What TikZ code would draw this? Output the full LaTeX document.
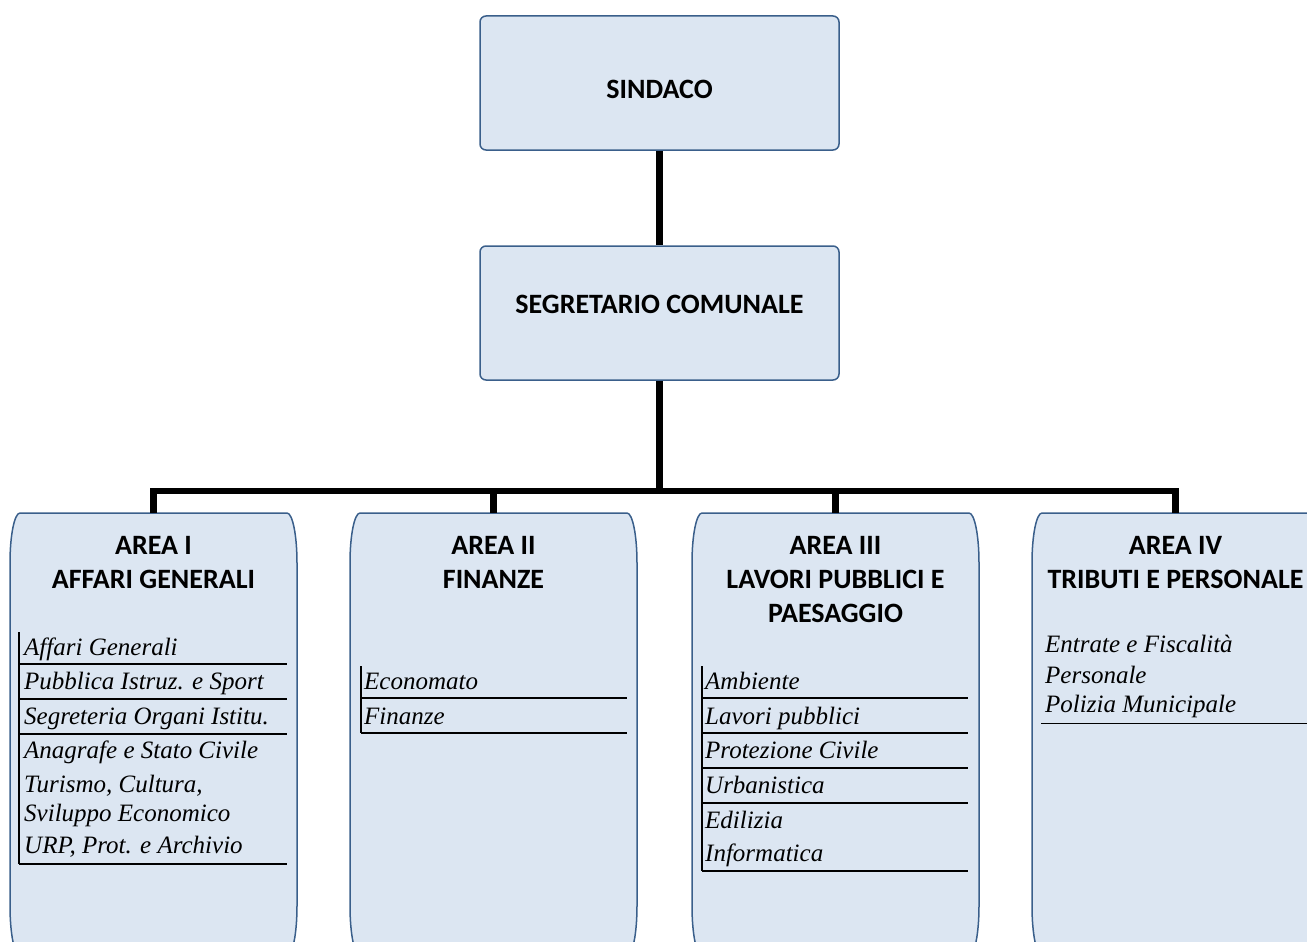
\documentclass[tikz,border=0pt]{standalone}
\usepackage{fontspec}
\setmainfont{Liberation Serif}
\newfontfamily\headfont{Carlito}
\usepackage{xcolor}
\definecolor{boxfill}{HTML}{DCE6F2}
\definecolor{boxline}{HTML}{3A5F8B}
\usetikzlibrary{positioning}

\begin{document}
\begin{tikzpicture}[x=1pt, y=-1pt,
    topbox/.style={draw=boxline, fill=boxfill, line width=1.5pt, rounded corners=6pt,
        minimum width=359pt, minimum height=134pt, inner sep=0pt,
        font=\headfont\bfseries\fontsize{28}{34}\selectfont},
    areabox/.style={draw=boxline, fill=boxfill, line width=1.5pt},
    heading/.style={font=\headfont\bfseries\fontsize{28}{34}\selectfont, align=center, inner sep=0pt, anchor=base},
    item/.style={font=\itshape\fontsize{25}{30}\selectfont, anchor=base west, inner sep=0pt},
    link/.style={line width=6.5pt},
    rule/.style={line width=2pt}]

\useasboundingbox (0,0) rectangle (1307,942);
\clip (0,0) rectangle (1307,942);

\node[topbox, text height=32pt, text depth=0pt] (sindaco) at (659.5,83) {SINDACO};
\node[topbox, text height=0pt, text depth=0pt] (segretario) at (659.5,313) {SEGRETARIO COMUNALE};

\foreach \x/\n in {10/1, 350/2, 692/3, 1032/4} {
    \draw[areabox] (\x+10,513) -- (\x+277,513)
        .. controls (\x+282.5,513) and (\x+287,535) .. (\x+287,563) -- (\x+287,906)
        .. controls (\x+287,934) and (\x+282.5,956) .. (\x+277,956) -- (\x+10,956)
        .. controls (\x+4.5,956) and (\x,934) .. (\x,906) -- (\x,563)
        .. controls (\x,535) and (\x+4.5,513) .. cycle;
    \coordinate (area\n) at (\x+143.5,513);
}
\coordinate (bus) at (659.5,491);

\draw[link] (sindaco) -- (segretario);
\draw[link] (segretario) -- (bus);
\foreach \n in {1,2,3,4}
    \draw[link] (bus) -| (area\n);

% headings: base is the last line
\node[heading] (head1) at (153.5,588) {AREA I\\AFFARI GENERALI};
\node[heading] (head2) at (493.5,588) {AREA II\\FINANZE};
\node[heading] (head3) at (835.5,622) {AREA III\\LAVORI PUBBLICI E\\PAESAGGIO};
\node[heading] (head4) at (1175.5,588) {AREA IV\\TRIBUTI E PERSONALE};

% Area I
\draw[rule] (19,632) -- (19,864);
\foreach \y in {664,699,734,864}
    \draw[rule] (19,\y) -- (287,\y);
\node[item] (affari) at (24,655) {Affari Generali};
\node[item] (istruz) at (24,689) {Pubblica Istruz. e Sport};
\node[item] (organi) at (24,724) {Segreteria Organi Istitu.};
\node[item] (anagrafe) at (24,758) {Anagrafe e Stato Civile};
\node[item] (turismo) at (24,792) {Turismo, Cultura,};
\node[item] (sviluppo) at (24,821) {Sviluppo Economico};
\node[item] (urp) at (24,853) {URP, Prot. e Archivio};

% Area II
\draw[rule] (361,666) -- (361,733);
\foreach \y in {698,733}
    \draw[rule] (361,\y) -- (627,\y);
\node[item] (economato) at (364,689) {Economato};
\node[item] (finanze) at (364,724) {Finanze};

% Area III
\draw[rule] (702,666) -- (702,871);
\foreach \y in {698,733,768,803,871}
    \draw[rule] (702,\y) -- (968,\y);
\node[item] (ambiente) at (705,689) {Ambiente};
\node[item] (lavori) at (705,724) {Lavori pubblici};
\node[item] (protezione) at (705,758) {Protezione Civile};
\node[item] (urbanistica) at (705,793) {Urbanistica};
\node[item] (edilizia) at (705,828) {Edilizia};
\node[item] (informatica) at (705,861) {Informatica};

% Area IV
\draw[line width=1pt] (1041,723) -- (1307,723);
\node[item] (entrate) at (1045,652) {Entrate e Fiscalità};
\node[item] (personale) at (1045,683) {Personale};
\node[item] (polizia) at (1045,712) {Polizia Municipale};
\end{tikzpicture}
\end{document}
